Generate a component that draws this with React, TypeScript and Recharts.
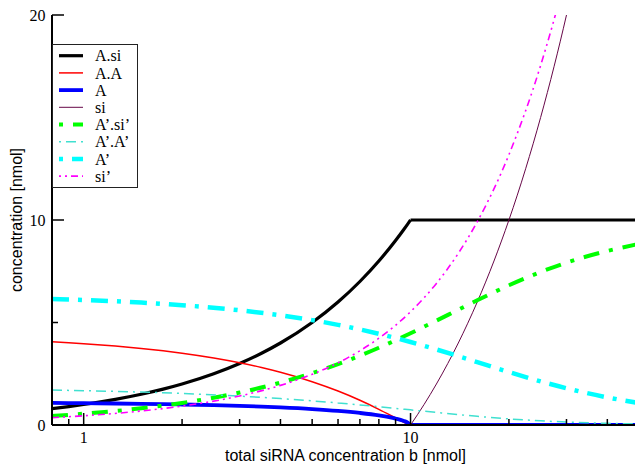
import React from 'react';
import { LineChart, Line, XAxis, YAxis, Legend } from 'recharts';

// ---- data ----
// unprimed species, below the titration point b = 10
const bLow = [0.8, 0.9, 1, 1.25, 1.5, 1.75, 2, 2.5, 3, 3.5, 4, 5, 6, 7, 8, 9, 9.5, 9.8, 10];
const aSiLow = [0.8, 0.9, 1, 1.25, 1.5, 1.75, 2, 2.5, 3, 3.5, 4, 5, 6, 7, 8, 9, 9.5, 9.8, 10];
const aaLow = [4.061, 4.015, 3.968, 3.851, 3.734, 3.617, 3.5, 3.267, 3.034, 2.803, 2.571, 2.112, 1.656, 1.207, 0.766, 0.343, 0.147, 0.044, 0];
const aLow = [1.077, 1.071, 1.065, 1.049, 1.033, 1.017, 1.0, 0.966, 0.931, 0.895, 0.857, 0.777, 0.688, 0.587, 0.468, 0.313, 0.205, 0.112, 0];
const siLow = [0, 0, 0, 0, 0, 0, 0, 0, 0, 0, 0, 0, 0, 0, 0, 0, 0, 0, 0];

// unprimed species, above b = 10
const bHigh = [10, 10.5, 11, 12, 13, 14, 16, 18, 20, 22.5, 25, 27.5, 30, 35, 40, 50];
const aSiHigh = [10, 10, 10, 10, 10, 10, 10, 10, 10, 10, 10, 10, 10, 10, 10, 10];
const aaHigh = [0, 0, 0, 0, 0, 0, 0, 0, 0, 0, 0, 0, 0, 0, 0, 0];
const aHigh = [0, 0, 0, 0, 0, 0, 0, 0, 0, 0, 0, 0, 0, 0, 0, 0];
const siHigh = [0, 0.5, 1, 2, 3, 4, 6, 8, 10, 12.5, 15, 17.5, 20, 25, 30, 40];

// primed species
const bPrime = [0.8, 1, 1.5, 2, 3, 4, 5, 6, 7, 8, 10, 12, 14, 16, 20, 25, 30, 40, 50];
const apSiP = [0.441, 0.55, 0.816, 1.078, 1.584, 2.067, 2.528, 2.966, 3.378, 3.767, 4.475, 5.092, 5.626, 6.085, 6.815, 7.463, 7.92, 8.49, 8.83];
const apApP = [1.702, 1.674, 1.605, 1.538, 1.409, 1.289, 1.178, 1.074, 0.979, 0.891, 0.738, 0.611, 0.508, 0.424, 0.3, 0.204, 0.145, 0.082, 0.052];
const apP = [6.152, 6.1, 5.972, 5.846, 5.596, 5.353, 5.116, 4.886, 4.664, 4.45, 4.05, 3.686, 3.359, 3.068, 2.584, 2.128, 1.793, 1.347, 1.072];
const siPP = [0.359, 0.45, 0.684, 0.922, 1.416, 1.933, 2.472, 3.034, 3.622, 4.233, 5.525, 6.908, 8.374, 9.915, 13.185, 17.537, 22.08, 31.51, 41.17];

// axes
const xTicks = [0.9, 1, 2, 3, 4, 5, 6, 7, 8, 9, 10, 20, 30, 40];
const xMajor = [1, 10];
const yTicks = [0, 5, 10, 15, 20];
const yMajor = [0, 10, 20];
const xTitle = 'total siRNA concentration b [nmol]';
const yTitle = 'concentration [nmol]';

const SERIF = '"Liberation Serif", "Times New Roman", serif';
const SANS = '"Liberation Sans", Arial, sans-serif';

const pts = (bs: number[], vs: number[]) => bs.map((b, i) => ({ b, v: vs[i] }));

type Seg = { b: number[]; v: number[]; type: 'monotone' | 'linear' };
type Series = { name: string; color: string; width: number; dash?: string; legendOffset?: number; segs: Seg[] };

const series: Series[] = [
  { name: 'A.si', color: '#000000', width: 3.2, segs: [{ b: bLow, v: aSiLow, type: 'monotone' }, { b: bHigh, v: aSiHigh, type: 'linear' }] },
  { name: 'A.A', color: '#ff0000', width: 1.5, segs: [{ b: bLow, v: aaLow, type: 'monotone' }, { b: bHigh, v: aaHigh, type: 'linear' }] },
  { name: 'A', color: '#0000ff', width: 3.8, segs: [{ b: bLow, v: aLow, type: 'monotone' }, { b: bHigh, v: aHigh, type: 'linear' }] },
  { name: 'si', color: '#670748', width: 1, segs: [{ b: bLow, v: siLow, type: 'linear' }, { b: bHigh, v: siHigh, type: 'monotone' }] },
  { name: 'A\u2019.si\u2019', color: '#00ff00', width: 4, dash: '16 10 4 10', legendOffset: 26, segs: [{ b: bPrime, v: apSiP, type: 'monotone' }] },
  { name: 'A\u2019.A\u2019', color: '#40e0d0', width: 1.5, dash: '10 5 2 5', legendOffset: 15, segs: [{ b: bPrime, v: apApP, type: 'monotone' }] },
  { name: 'A\u2019', color: '#00ffff', width: 4.5, dash: '17 9 4 9', legendOffset: 26, segs: [{ b: bPrime, v: apP, type: 'monotone' }] },
  { name: 'si\u2019', color: '#ff00ff', width: 1.6, dash: '7 4 2 4 2 4', legendOffset: 11, segs: [{ b: bPrime, v: siPP, type: 'monotone' }] },
];

const BottomTick = (p: any) => {
  const { x, y, payload } = p;
  const major = xMajor.includes(payload.value);
  return (
    <g>
      <line x1={x} x2={x} y1={y} y2={y - (major ? 12 : 6)} stroke="#000" strokeWidth={1.5} />
      {major && (
        <text x={x} y={y + 18} textAnchor="middle" fontFamily={SERIF} fontSize={16} fill="#000">
          {payload.value}
        </text>
      )}
    </g>
  );
};
const TopTick = (p: any) => {
  const { x, y, payload } = p;
  const major = xMajor.includes(payload.value);
  return <line x1={x} x2={x} y1={y} y2={y + (major ? 12 : 6)} stroke="#000" strokeWidth={1.5} />;
};
const LeftTick = (p: any) => {
  const { x, y, payload } = p;
  const major = yMajor.includes(payload.value);
  return (
    <g>
      <line x1={x} x2={x + (major ? 12 : 6)} y1={y} y2={y} stroke="#000" strokeWidth={1.5} />
      {major && (
        <text x={x - 6.5} y={y + 6} textAnchor="end" fontFamily={SERIF} fontSize={16} fill="#000">
          {payload.value}
        </text>
      )}
    </g>
  );
};
const RightTick = (p: any) => {
  const { x, y, payload } = p;
  const major = yMajor.includes(payload.value);
  return <line x1={x} x2={x - (major ? 12 : 6)} y1={y} y2={y} stroke="#000" strokeWidth={1.5} />;
};

const LegendBox = () => (
  <svg width={88} height={146} style={{ display: 'block' }}>
    <rect x={0.5} y={0.5} width={85} height={143} fill="#fff" stroke="#222" strokeWidth={1} />
    {series.map((s, i) => {
      const ly = 11.7 + i * 17.2;
      return (
        <g key={s.name}>
          <line
            x1={7}
            x2={31}
            y1={ly}
            y2={ly}
            stroke={s.color}
            strokeWidth={s.width}
            strokeDasharray={s.dash}
            strokeDashoffset={s.legendOffset || 0}
          />
          <text x={43} y={17.3 + i * 17.2} fontFamily={SERIF} fontSize={16} fill="#000">
            {s.name}
          </text>
        </g>
      );
    })}
  </svg>
);

export default function App() {
  return (
    <div style={{ position: 'fixed', left: 0, top: 0, width: 635, height: 465, overflow: 'hidden', background: '#fff' }}>
      <LineChart width={660} height={465} margin={{ top: 15, right: 21, bottom: 0, left: 0 }}>
        <XAxis
          xAxisId="bottom"
          dataKey="b"
          type="number"
          scale="log"
          domain={[0.8, 50]}
          allowDataOverflow
          ticks={xTicks}
          interval={0}
          tickLine={false}
          tickSize={0}
          tickMargin={0}
          height={40}
          axisLine={{ stroke: '#000', strokeWidth: 2 }}
          tick={BottomTick}
          label={(p: any) => {
            const vb = p.viewBox || { x: 52, y: 425, width: 587 };
            return (
              <text x={vb.x + vb.width / 2} y={vb.y + 36} textAnchor="middle" fontFamily={SANS} fontSize={16} fill="#000">
                {xTitle}
              </text>
            );
          }}
        />
        <XAxis
          xAxisId="top"
          orientation="top"
          dataKey="b"
          type="number"
          scale="log"
          domain={[0.8, 50]}
          allowDataOverflow
          ticks={xTicks}
          interval={0}
          tickLine={false}
          tickSize={0}
          tickMargin={0}
          height={0}
          axisLine={{ stroke: '#000', strokeWidth: 2 }}
          tick={TopTick}
        />
        <YAxis
          yAxisId="left"
          type="number"
          domain={[0, 20]}
          allowDataOverflow
          ticks={yTicks}
          interval={0}
          tickLine={false}
          tickSize={0}
          tickMargin={0}
          width={52}
          axisLine={{ stroke: '#000', strokeWidth: 2 }}
          tick={LeftTick}
          label={(p: any) => {
            const vb = p.viewBox || { x: 0, y: 15, width: 52, height: 410 };
            const cx = vb.x + 22;
            const cy = vb.y + vb.height / 2;
            return (
              <text x={cx} y={cy} transform={`rotate(-90 ${cx} ${cy})`} textAnchor="middle" fontFamily={SANS} fontSize={16} fill="#000">
                {yTitle}
              </text>
            );
          }}
        />
        <YAxis
          yAxisId="right"
          orientation="right"
          type="number"
          domain={[0, 20]}
          allowDataOverflow
          ticks={yTicks}
          interval={0}
          tickLine={false}
          tickSize={0}
          tickMargin={0}
          width={0}
          axisLine={{ stroke: '#000', strokeWidth: 2 }}
          tick={RightTick}
        />
        <Legend
          layout="vertical"
          align="center"
          verticalAlign="middle"
          content={() => <LegendBox />}
          wrapperStyle={{ left: 52, top: 44, width: 88, height: 146 }}
        />
        {series.flatMap((s) =>
          s.segs.map((seg, j) => (
            <Line
              key={s.name + j}
              xAxisId="bottom"
              yAxisId="left"
              data={pts(seg.b, seg.v)}
              dataKey="v"
              name={s.name}
              type={seg.type}
              stroke={s.color}
              strokeWidth={s.width}
              strokeDasharray={s.dash}
              strokeLinecap="butt"
              dot={false}
              activeDot={false}
              isAnimationActive={false}
              legendType="none"
            />
          ))
        )}
      </LineChart>
    </div>
  );
}
